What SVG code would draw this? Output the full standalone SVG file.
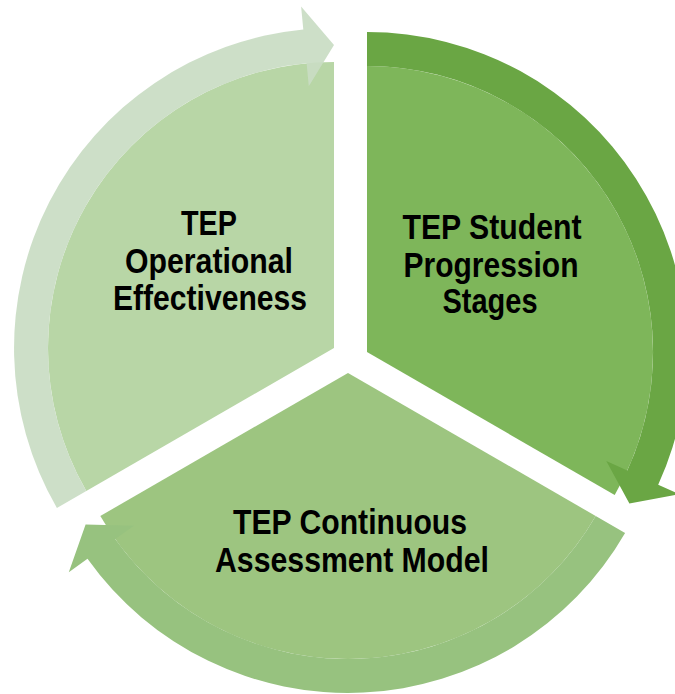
<svg xmlns="http://www.w3.org/2000/svg" width="675" height="694" viewBox="0 0 675 694">
<style>
  .lbl { font-family: "Liberation Sans", Arial, sans-serif; font-weight: bold; font-size: 35px; fill: #000; text-anchor: middle; }
</style>
<rect width="675" height="694" fill="#ffffff"/>
<g id="node-operational">
  <path d="M334,348 L334,62 A286,286 0 0 0 86.3,491 Z" fill="#B8D6A6"/>
</g>
<g id="node-student">
  <path d="M367,352 L367,66 A286,286 0 0 1 614.7,495 Z" fill="#7EB65A"/>
</g>
<g id="node-assessment">
  <path d="M348,373 L595.7,516 A286,286 0 0 1 100.3,516 Z" fill="#9DC580"/>
</g>
<g id="connectors">
  <path d="M86.3,491 L56.9,508 A320,320 0 0 1 303.3,29.5 L301.1,6.6 L334,45 L308.8,86.2 L306.6,63.3 A286,286 0 0 0 86.3,491 Z" fill="#C9DCC3" fill-opacity="0.92"/>
  <path d="M367,66 L367,32 A320,320 0 0 1 658.2,484.7 L679.1,494.2 L629.4,503.5 L606.3,461.1 L627.3,470.6 A286,286 0 0 0 367,66 Z" fill="#6AA644"/>
  <path d="M595.7,516 L625.1,533 A320,320 0 0 1 87.5,558.8 L68.8,572.2 L85.6,524.5 L133.9,525.7 L115.2,539.1 A286,286 0 0 0 595.7,516 Z" fill="#97C27F"/>
</g>
<g id="labels">
  <g id="label-operational">
    <text class="lbl" x="209" y="235" textLength="56" lengthAdjust="spacingAndGlyphs">TEP</text>
    <text class="lbl" x="209" y="273" textLength="168" lengthAdjust="spacingAndGlyphs">Operational</text>
    <text class="lbl" x="210" y="310" textLength="194" lengthAdjust="spacingAndGlyphs">Effectiveness</text>
  </g>
  <g id="label-student">
    <text class="lbl" x="492" y="239" textLength="179" lengthAdjust="spacingAndGlyphs">TEP Student</text>
    <text class="lbl" x="491" y="277" textLength="175" lengthAdjust="spacingAndGlyphs">Progression</text>
    <text class="lbl" x="490" y="313" textLength="95" lengthAdjust="spacingAndGlyphs">Stages</text>
  </g>
  <g id="label-assessment">
    <text class="lbl" x="350" y="534" textLength="234" lengthAdjust="spacingAndGlyphs">TEP Continuous</text>
    <text class="lbl" x="352" y="572" textLength="274" lengthAdjust="spacingAndGlyphs">Assessment Model</text>
  </g>
</g>
</svg>
